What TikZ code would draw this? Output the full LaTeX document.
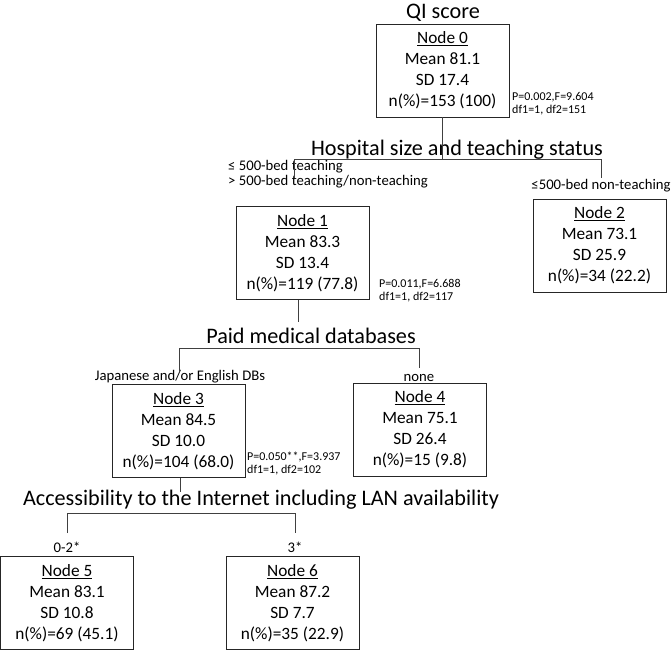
\documentclass[tikz,border=0pt]{standalone}
\usepackage{fontspec}
\setmainfont{Carlito}
\begin{document}
\begin{tikzpicture}[x=1pt,y=-1pt,
 box/.style={draw=black!85, line width=0.9pt, minimum width=133pt, minimum height=93pt, inner sep=0pt, align=center, font=\fontsize{17.3}{21}\selectfont},
 ttl/.style={font=\fontsize{22.2}{25}\selectfont, inner sep=0pt, anchor=base},
 brl/.style={font=\fontsize{14.7}{15}\selectfont, inner sep=0pt, anchor=base},
 stat/.style={font=\fontsize{12}{13}\selectfont, inner sep=0pt, align=left, anchor=base west},
 conn/.style={draw=black!75, line width=0.8pt}]
\useasboundingbox (0,0) rectangle (672,651);

% boxes
\node[box] (n0) at (442.5,70.5) {\underline{Node 0}\\Mean 81.1\\SD 17.4\\n(\%)=153 (100)};
\node[box] (n1) at (302.5,253) {\underline{Node 1}\\Mean 83.3\\SD 13.4\\n(\%)=119 (77.8)};
\node[box] (n2) at (599.5,245.5) {\underline{Node 2}\\Mean 73.1\\SD 25.9\\n(\%)=34 (22.2)};
\node[box] (n3) at (178.5,431) {\underline{Node 3}\\Mean 84.5\\SD 10.0\\n(\%)=104 (68.0)};
\node[box] (n4) at (420,429.5) {\underline{Node 4}\\Mean 75.1\\SD 26.4\\n(\%)=15 (9.8)};
\node[box] (n5) at (67,603) {\underline{Node 5}\\Mean 83.1\\SD 10.8\\n(\%)=69 (45.1)};
\node[box] (n6) at (292.5,603) {\underline{Node 6}\\Mean 87.2\\SD 7.7\\n(\%)=35 (22.9)};

% titles
\node[ttl] (t0) at (443,18) {QI score};
\node[ttl] (t1) at (457,155) {Hospital size and teaching status};
\node[ttl] (t2) at (311,343) {Paid medical databases};
\node[ttl] (t3) at (261,505) {Accessibility to the Internet including LAN availability};

% branch labels
\node[brl, align=left, anchor=base west] (l1) at (228,185) {≤ 500-bed teaching\\> 500-bed teaching/non-teaching};
\node[brl] (l2) at (601,189) {≤500-bed non-teaching};
\node[brl] (l3) at (180,380) {Japanese and/or English DBs};
\node[brl] (l4) at (419,381) {none};
\node[brl] (l5) at (67,552) {0-2*};
\node[brl] (l6) at (295,552) {3*};

% statistics
\node[stat] (s0) at (512,113) {P=0.002,F=9.604\\df1=1, df2=151};
\node[stat] (s1) at (379,300) {P=0.011,F=6.688\\df1=1, df2=117};
\node[stat] (s3) at (247,473) {P=0.050**,F=3.937\\df1=1, df2=102};

% connector coordinates
\coordinate (a0) at (294,159); \coordinate (b0) at (601,159);
\coordinate (a0e) at (294,178); \coordinate (b0e) at (601,178);
\coordinate (a1) at (179,348); \coordinate (b1) at (419,348);
\coordinate (a1e) at (179,372); \coordinate (b1e) at (419,368);
\coordinate (a3) at (67,513); \coordinate (b3) at (295,513);
\coordinate (a3e) at (67,533); \coordinate (b3e) at (295,533);
\coordinate (m1) at (298,322); \coordinate (m3) at (180,492);

\draw[conn] (n0.south) -- (n0.south |- a0);
\draw[conn] (a0e) -- (a0) -- (b0) -- (b0e);
\draw[conn] (n1.south -| m1) -- (m1);
\draw[conn] (a1e) -- (a1) -- (b1) -- (b1e);
\draw[conn] (n3.south -| m3) -- (m3);
\draw[conn] (a3e) -- (a3) -- (b3) -- (b3e);
\end{tikzpicture}
\end{document}
